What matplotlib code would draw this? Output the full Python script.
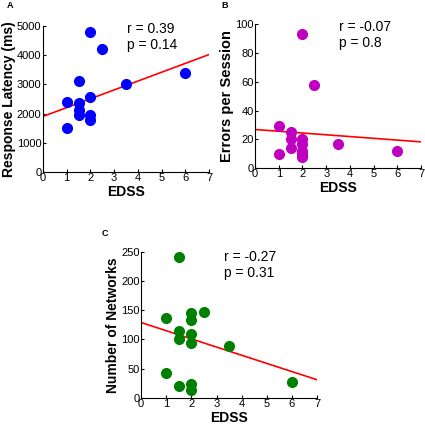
import matplotlib.pyplot as plt

plt.rcParams['font.family'] = ['Liberation Sans', 'DejaVu Sans']

edss_a = [1, 1, 1.5, 1.5, 1.5, 1.5, 2, 2, 2, 2, 2.5, 3.5, 6]
latency = [2390, 1520, 3100, 2360, 2130, 1940, 4790, 2560, 1960, 1790, 4200, 3020, 3380]

edss_b = [1, 1, 1.5, 1.5, 1.5, 2, 2, 2, 2, 2, 2, 2.5, 3.5, 6]
errors = [29, 10, 25, 20.5, 14, 93, 20, 17, 12, 10, 8, 58, 17, 12]

edss_c = [1, 1, 1.5, 1.5, 1.5, 1.5, 2, 2, 2, 2, 2, 2, 2.5, 3.5, 6]
networks = [137, 42, 242, 114, 100, 20, 145, 133, 109, 94, 23, 13, 147, 89, 28]

# regression lines (value at EDSS 0 and 7)
fit_x = [0, 7]
fit_a = [1900, 4020]
fit_b = [26.8, 18.2]
fit_c = [129, 31]

panels = [
    ("A", [0.101, 0.602, 0.391, 0.338], edss_a, latency, fit_a, (0, 5000), 1000,
     "Response Latency (ms)", "blue", "r = 0.39\np = 0.14", (3.55, 5130), 10),
    ("B", [0.600, 0.611, 0.391, 0.333], edss_b, errors, fit_b, (0, 100), 20,
     "Errors per Session", "#c000c0", "r = -0.07\np = 0.8", (3.55, 103), 10.5),
    ("C", [0.332, 0.079, 0.414, 0.338], edss_c, networks, fit_c, (0, 250), 50,
     "Number of Networks", "green", "r = -0.27\np = 0.31", (3.3, 254), 10),
]

fig = plt.figure(figsize=(4.25, 4.32), dpi=100)
label_pos = {"A": (10, 5), "B": (225, 5), "C": (105, 233)}

for name, rect, x, y, fit, ylim, step, ylabel, color, stats, tpos, lsize in panels:
    ax = fig.add_axes(rect)
    ax.plot(x, y, 'o', color=color, markersize=7, zorder=3)
    ax.plot(fit_x, fit, color='red', linewidth=1.2, zorder=2)
    ax.set_xlim(0, 7)
    ax.set_ylim(*ylim)
    ax.set_xticks(range(8))
    ax.set_yticks(range(ylim[0], ylim[1] + 1, step))
    ax.tick_params(direction='in', length=2, labelsize=8, pad=1)
    ax.spines['top'].set_visible(False)
    ax.spines['right'].set_visible(False)
    ax.set_xlabel("EDSS", fontsize=10, fontweight='bold', labelpad=1)
    ax.set_ylabel(ylabel, fontsize=lsize, fontweight='bold', labelpad=1)
    ax.text(tpos[0], tpos[1], stats, fontsize=10, va='top', ha='left',
            linespacing=1.2)
    lx, ly = label_pos[name]
    fig.text(lx / 425, 1 - ly / 432, name, fontsize=6.5, fontweight='bold',
             ha='center', va='center')

plt.savefig('out.png', dpi=100)
